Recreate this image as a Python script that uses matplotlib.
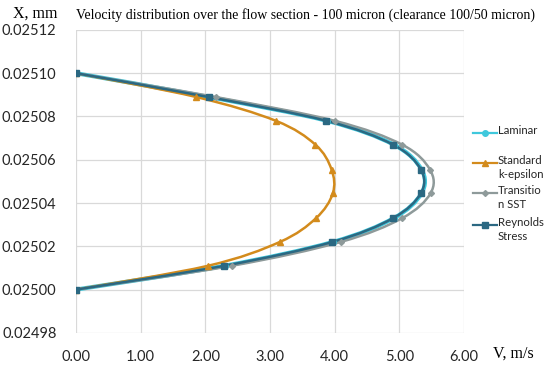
import matplotlib
matplotlib.use("Agg")
import matplotlib.pyplot as plt
import numpy as np
from matplotlib.lines import Line2D
from matplotlib.path import Path
from matplotlib.patches import PathPatch
from matplotlib.ticker import FormatStrFormatter, MultipleLocator

# Position across the flow section, mm
x_pos = [0.025100, 0.025089, 0.025078, 0.025067, 0.0250555,
         0.0250445, 0.025033, 0.025022, 0.025011, 0.025000]

# Velocity, m/s (Laminar lies under the Reynolds Stress curve)
v_laminar = [0.00, 2.06, 3.88, 4.91, 5.34, 5.34, 4.91, 3.97, 2.30, 0.00]
v_k_eps = [0.00, 1.86, 3.09, 3.70, 3.95, 3.97, 3.71, 3.15, 2.04, 0.00]
v_sst = [0.00, 2.16, 4.00, 5.04, 5.47, 5.48, 5.04, 4.09, 2.41, 0.00]
v_rsm = [0.00, 2.05, 3.87, 4.90, 5.33, 5.33, 4.90, 3.96, 2.29, 0.00]

labels = ["Laminar", "Standard\nk-epsilon", "Transitio\nn SST", "Reynolds\nStress"]
colors = ["#3FC8DC", "#D38B1C", "#8E9A9A", "#2B6882"]
markers = ["o", "^", "D", "s"]
msizes = [4, 4.5, 3, 4.5]

tick_font = "Lato"
serif = "Liberation Serif"


def smooth_path(xs, ys):
    # Excel-style smoothed line: cubic Bezier segments through every point
    p = np.column_stack([xs, ys])
    ext = np.vstack([p[0], p, p[-1]])
    verts = [p[0]]
    codes = [Path.MOVETO]
    for i in range(len(p) - 1):
        c1 = ext[i + 1] + (ext[i + 2] - ext[i]) / 6
        c2 = ext[i + 2] - (ext[i + 3] - ext[i + 1]) / 6
        verts += [c1, c2, p[i + 1]]
        codes += [Path.CURVE4] * 3
    return Path(verts, codes)


fig = plt.figure(figsize=(5.5, 3.65), dpi=100)
ax = fig.add_axes([0.138, 0.088, 0.706, 0.830])

series = [v_laminar, v_k_eps, v_sst, v_rsm]
widths = [3.0, 1.8, 1.8, 1.8]
for v, c, m, ms, lw in zip(series, colors, markers, msizes, widths):
    ax.add_patch(PathPatch(smooth_path(v, x_pos), fill=False, edgecolor=c, linewidth=lw))
    ax.plot(v, x_pos, linestyle="none", color=c, marker=m, markersize=ms)

ax.set_xlim(0, 6)
ax.set_ylim(0.02498, 0.02512)
ax.xaxis.set_major_locator(MultipleLocator(1))
ax.yaxis.set_major_locator(MultipleLocator(0.00002))
ax.xaxis.set_major_formatter(FormatStrFormatter("%.2f"))
ax.yaxis.set_major_formatter(FormatStrFormatter("%.5f"))
ax.grid(True, color="#D9D9D9", linewidth=0.9)
ax.set_axisbelow(True)
for s in ax.spines.values():
    s.set_visible(False)
ax.tick_params(length=0, labelsize=10.5)
ax.tick_params(axis="y", pad=14)
ax.tick_params(axis="x", pad=12)
for lab in ax.get_xticklabels() + ax.get_yticklabels():
    lab.set_family(tick_font)
    lab.set_color("#262626")

fig.text(0.064, 0.962, "X, mm", family=serif, fontsize=11.5, ha="center", va="center")
fig.text(0.933, 0.032, "V, m/s", family=serif, fontsize=11.5, ha="center", va="center")
fig.text(0.555, 0.958, "Velocity distribution over the flow section - 100 micron (clearance 100/50 micron)",
         family=serif, fontsize=10, ha="center", va="center")

# Legend drawn by hand so the handle sits on the first text line
leg_y = [133, 163, 193, 225]
for lab, c, m, ms, y in zip(labels, colors, markers, msizes, leg_y):
    fy = 1 - y / 365
    fig.add_artist(Line2D([473 / 550, 497 / 550], [fy, fy], color=c, linewidth=1.6,
                          transform=fig.transFigure))
    fig.add_artist(Line2D([485 / 550], [fy], color=c, marker=m, markersize=ms,
                          transform=fig.transFigure))
    fig.text(498 / 550, fy + 0.021, lab, family=tick_font, fontsize=8.2, ha="left", va="top",
             color="#262626", linespacing=1.3)

fig.savefig("out.png", dpi=100)
plt.close(fig)
